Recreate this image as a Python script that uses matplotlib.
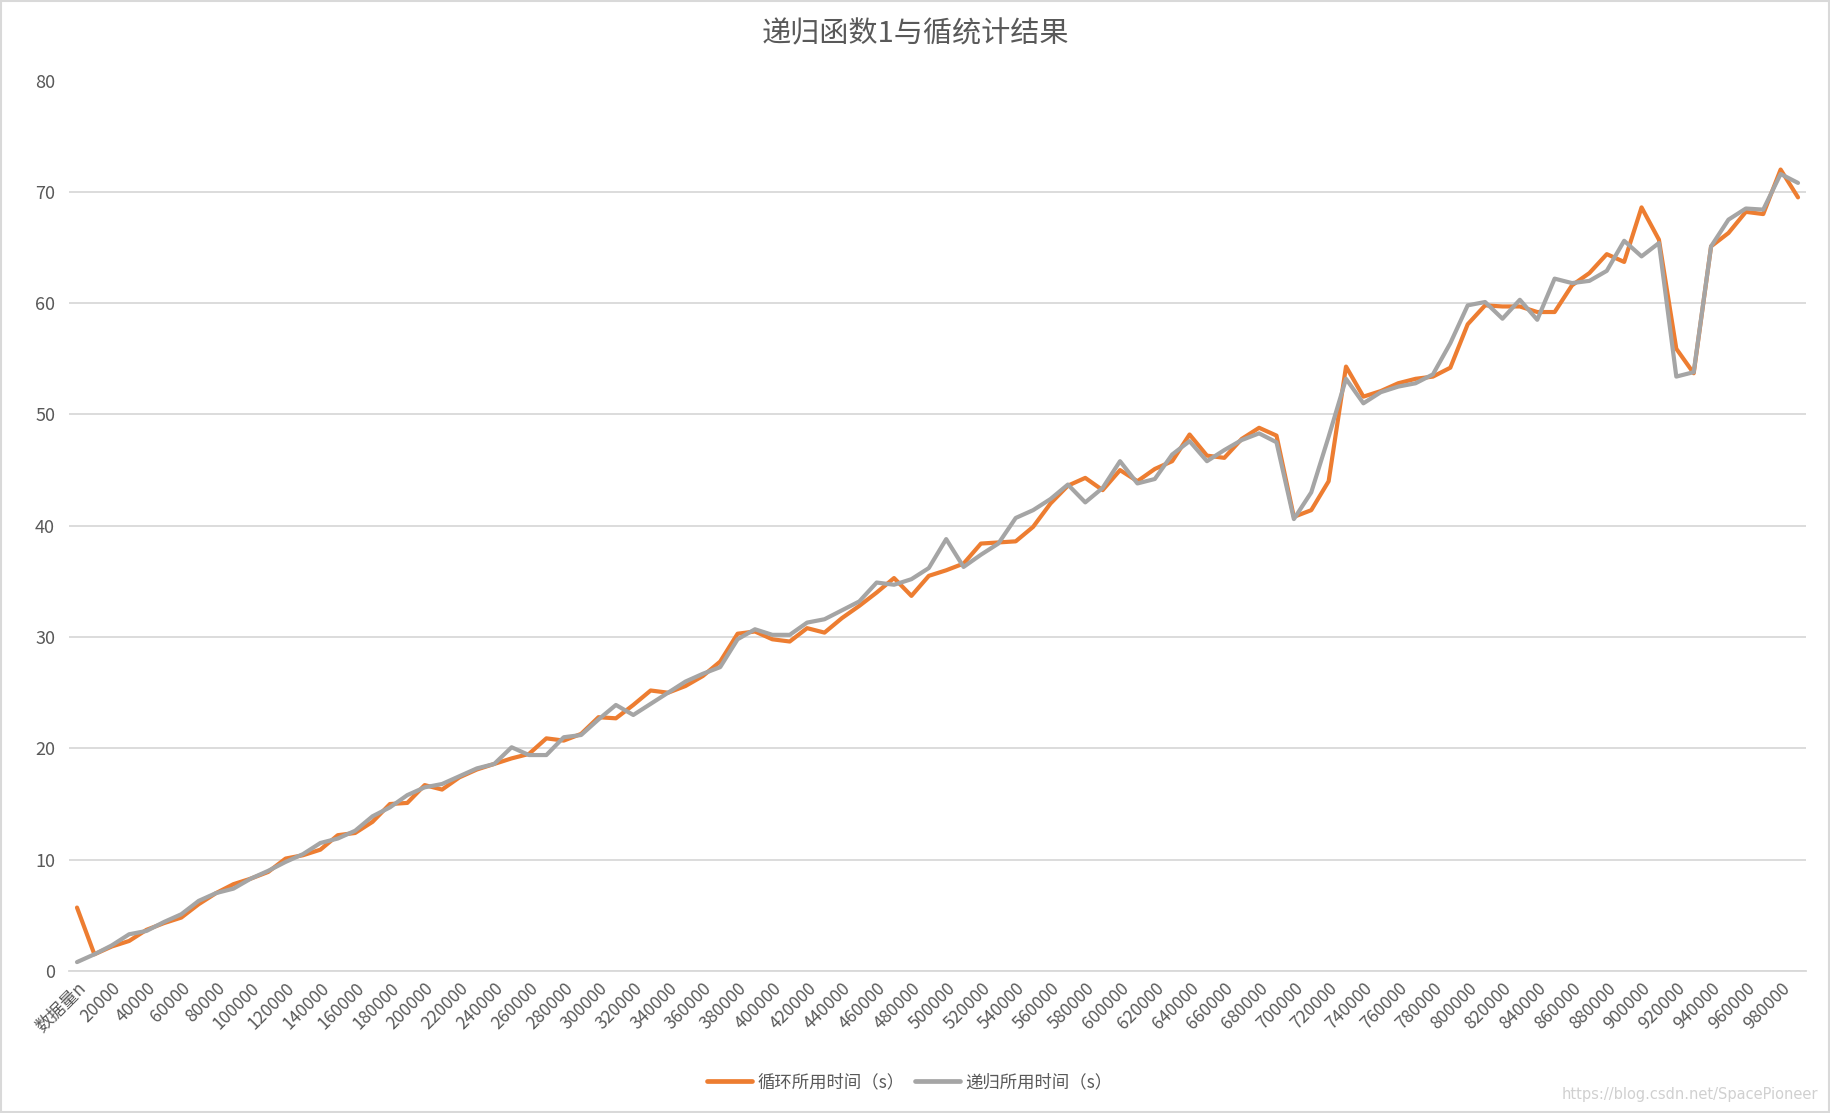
import matplotlib
matplotlib.use("Agg")
import matplotlib.pyplot as plt
from matplotlib.patches import Rectangle

plt.rcParams['font.family'] = ['Noto Sans CJK SC', 'DejaVu Sans']

categories = ['数据量n'] + [str(n) for n in range(10000, 1000000, 10000)]

loop_times = [5.7, 1.5, 2.2, 2.7, 3.7, 4.3, 4.8, 6.0, 7.0, 7.8,
              8.3, 8.9, 10.1, 10.4, 10.9, 12.2, 12.4, 13.4, 15.0, 15.1,
              16.7, 16.3, 17.4, 18.1, 18.6, 19.1, 19.5, 20.9, 20.7, 21.3,
              22.8, 22.7, 23.9, 25.2, 25.0, 25.6, 26.5, 27.8, 30.3, 30.5,
              29.8, 29.6, 30.8, 30.4, 31.7, 32.8, 34.0, 35.3, 33.7, 35.5,
              36.0, 36.6, 38.4, 38.5, 38.6, 39.9, 42.0, 43.6, 44.3, 43.2,
              45.0, 44.0, 45.1, 45.8, 48.2, 46.3, 46.1, 47.8, 48.8, 48.1,
              40.8, 41.4, 44.0, 54.3, 51.6, 52.1, 52.8, 53.2, 53.4, 54.2,
              58.1, 59.8, 59.7, 59.7, 59.2, 59.2, 61.6, 62.7, 64.4, 63.7,
              68.6, 65.7, 55.9, 53.7, 65.1, 66.3, 68.2, 68.0, 72.0, 69.5]

recursion_times = [0.8, 1.5, 2.3, 3.3, 3.6, 4.4, 5.1, 6.3, 7.0, 7.4,
                   8.3, 9.0, 9.8, 10.5, 11.5, 11.9, 12.6, 13.9, 14.7, 15.8,
                   16.5, 16.8, 17.5, 18.2, 18.6, 20.1, 19.4, 19.4, 21.0, 21.2,
                   22.6, 23.9, 23.0, 24.0, 25.0, 26.0, 26.7, 27.3, 29.8, 30.7,
                   30.2, 30.2, 31.3, 31.6, 32.4, 33.2, 34.9, 34.7, 35.2, 36.2,
                   38.8, 36.3, 37.4, 38.4, 40.7, 41.4, 42.4, 43.7, 42.1, 43.4,
                   45.8, 43.8, 44.2, 46.4, 47.6, 45.8, 46.8, 47.7, 48.3, 47.5,
                   40.6, 43.0, 48.0, 53.2, 51.0, 52.0, 52.5, 52.8, 53.6, 56.4,
                   59.8, 60.1, 58.6, 60.3, 58.5, 62.2, 61.8, 62.0, 62.9, 65.6,
                   64.2, 65.4, 53.4, 53.8, 65.1, 67.5, 68.5, 68.4, 71.6, 70.8]

series_names = ['循环所用时间（s）', '递归所用时间（s）']
y_ticks = [0, 10, 20, 30, 40, 50, 60, 70, 80]

fig = plt.figure(figsize=(18.3, 11.13), dpi=100)
ax = fig.add_axes([69/1830, 1-971/1113, (1806-69)/1830, (971-80.5)/1113])

x = list(range(len(categories)))
ax.plot(x, loop_times, color='#ED7D31', lw=3.0, label=series_names[0],
        solid_joinstyle='round', solid_capstyle='round')
ax.plot(x, recursion_times, color='#A5A5A5', lw=3.0, label=series_names[1],
        solid_joinstyle='round', solid_capstyle='round')

ax.set_xlim(-0.46, len(categories) - 1 + 0.46)
ax.set_ylim(0, 80)
ax.set_yticks(y_ticks)
ax.set_yticklabels([str(v) for v in y_ticks])
ax.grid(axis='y', color='#D9D9D9', lw=1.3)
ax.set_axisbelow(True)
for s in ['top', 'right', 'left']:
    ax.spines[s].set_visible(False)
ax.spines['bottom'].set_color('#D9D9D9')
ax.spines['bottom'].set_linewidth(1.3)
ax.tick_params(axis='y', length=0, pad=10, labelsize=13, labelcolor='#595959')

ticks = x[::2]
ax.set_xticks(ticks)
ax.set_xticklabels([categories[i] for i in ticks], rotation=45, ha='right',
                   rotation_mode='anchor', fontsize=12.5, color='#595959')
ax.tick_params(axis='x', length=0, pad=6)

fig.text(0.5, 1-34/1113, '递归函数1与循统计结果', ha='center', va='center',
         fontsize=21, color='#595959')

leg = fig.legend(loc='center', bbox_to_anchor=(0.497, 1-1082/1113), ncol=2,
                 frameon=False, fontsize=12.5, handlelength=2.6,
                 columnspacing=0.6, handletextpad=0.3)
for t in leg.get_texts():
    t.set_color('#595959')
for l in leg.get_lines():
    l.set_linewidth(3.4)

fig.text(1818/1830, 1-1095/1113, 'https://blog.csdn.net/SpacePioneer',
         ha='right', va='center', fontsize=10.5, color='#D0D0D0',
         family=['DejaVu Sans'])

fig.patches.append(Rectangle((0.0008, 0.001), 0.9984, 0.998, transform=fig.transFigure,
                             fill=False, edgecolor='#D9D9D9', lw=1.5))

fig.savefig('out.png', dpi=100, facecolor='white')
